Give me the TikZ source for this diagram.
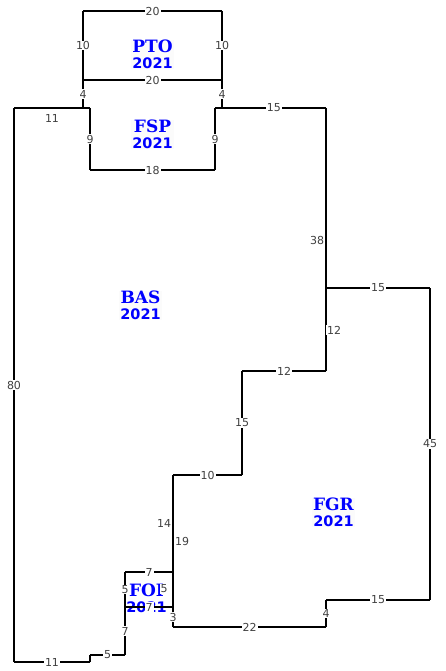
\documentclass[tikz,border=0pt]{standalone}
\usepackage{fontspec}
\setmainfont{DejaVu Sans}
\newfontfamily\roomfont{DejaVu Serif}[BoldFont={DejaVu Serif Bold}]
\newfontfamily\yearfont{DejaVu Sans Bold}
\newcommand{\yr}{\yearfont\fontsize{14.5}{15}\selectfont 2021}
\tikzset{
  wall/.style={draw=black,line width=1.9pt,line cap=square},
  shared/.style={draw=black,line width=2.5pt,line cap=square},
  dim/.style={fill=white,inner xsep=1pt,inner ysep=0.5pt,font=\fontsize{11}{11}\selectfont,text=black!75},
  dimfree/.style={dim,fill=none},
  room/.style={fill=black!1.5,inner xsep=1.5pt,inner ysep=0.5pt,align=center,text=blue,
    font=\roomfont\bfseries\fontsize{17}{16}\selectfont},
}
\begin{document}
\begin{tikzpicture}[x=1pt,y=-1pt]
\useasboundingbox (0,0) rectangle (445,671);
% corners
\coordinate (a1) at (83,11); \coordinate (a2) at (222,11);
\coordinate (a3) at (222,80); \coordinate (a4) at (83,80);
\coordinate (a5) at (83,108); \coordinate (a6) at (222,108);
\coordinate (f1) at (90,108); \coordinate (f2) at (90,170);
\coordinate (f3) at (215,170); \coordinate (f4) at (215,108);
\coordinate (b1) at (14,108); \coordinate (r1) at (326,108);
\coordinate (r2) at (326,288); \coordinate (r3) at (430,288);
\coordinate (r4) at (430,600); \coordinate (r5) at (326,600);
\coordinate (r6) at (326,627); \coordinate (r7) at (173,627);
\coordinate (c1) at (326,371); \coordinate (c2) at (242,371);
\coordinate (c3) at (242,475); \coordinate (c4) at (173,475);
\coordinate (c5) at (173,572); \coordinate (c6) at (173,607);
\coordinate (d1) at (125,572); \coordinate (d2) at (125,607);
\coordinate (d3) at (125,655); \coordinate (d4) at (90,655);
\coordinate (d5) at (90,662); \coordinate (d6) at (14,662);
% room names
\node[room] (pto) at (152.5,54.5) {PTO\\\yr};
\node[room] (fsp) at (152.5,134.5) {FSP\\\yr};
\node[room] (bas) at (140.5,305.5) {BAS\\\yr};
\node[room] (fgr) at (333.5,512.5) {FGR\\\yr};
\node[room,fill=none] (foi) at (146.5,598) {FOI\\\yr};
% walls
\draw[wall] (a1) -- node[dim] (l1) {20} (a2);
\draw[wall] (a2) -- node[dim] (l2) {10} (a3);
\draw[wall] (a1) -- node[dim] (l3) {10} (a4);
\draw[shared] (a4) -- node[dim] (l4) {20} (a3);
\draw[wall] (a4) -- node[dim] (l5) {4} (a5);
\draw[wall] (a3) -- node[dim] (l6) {4} (a6);
\draw[shared] (f1) -- node[dim] (l7) {9} (f2);
\draw[shared] (f2) -- node[dim] (l8) {18} (f3);
\draw[shared] (f3) -- node[dim] (l9) {9} (f4);
\draw[wall] (b1) -- (f1);
\draw[wall] (f4) -- node[dim,pos=.53] (l10) {15} (r1);
\draw[wall] (r1) -- (r2);
\draw[wall] (r2) -- node[dim] (l11) {15} (r3);
\draw[wall] (r3) -- node[dim] (l12) {45} (r4);
\draw[wall] (r4) -- node[dim] (l13) {15} (r5);
\draw[shared] (r5) -- node[dim] (l14) {4} (r6);
\draw[shared] (r6) -- node[dim] (l15) {22} (r7);
\draw[wall] (r7) -- node[dim] (l16) {3} (c6);
\draw[shared] (r2) -- (c1);
\draw[shared] (c1) -- node[dim] (l17) {12} (c2);
\draw[shared] (c2) -- node[dim] (l18) {15} (c3);
\draw[shared] (c3) -- node[dim] (l19) {10} (c4);
\draw[shared] (c4) -- (c6);
\draw[wall] (d1) -- node[dim] (l20) {7} (c5);
\draw[wall] (d1) -- node[dim] (l21) {5} (d2);
\draw[shared] (d2) -- node[dim] (l22) {7} (c6);
\draw[wall] (d2) -- node[dim] (l23) {7} (d3);
\draw[shared] (d3) -- node[dim] (l24) {5} (d4);
\draw[shared] (d4) -- (d5);
\draw[shared] (d5) -- node[dim] (l25) {11} (d6);
\draw[wall] (d6) -- node[dim] (l26) {80} (b1);
% labels beside their walls
\node[dimfree] (l27) at (52,118) {11};
\node[dim] (l28) at (317,240) {38};
\node[dim] (l29) at (334,330) {12};
\node[dim] (l30) at (164,523) {14};
\node[dim] (l31) at (182,541) {19};
\node[dim] (l32) at (164,589) {5};
\end{tikzpicture}
\end{document}
